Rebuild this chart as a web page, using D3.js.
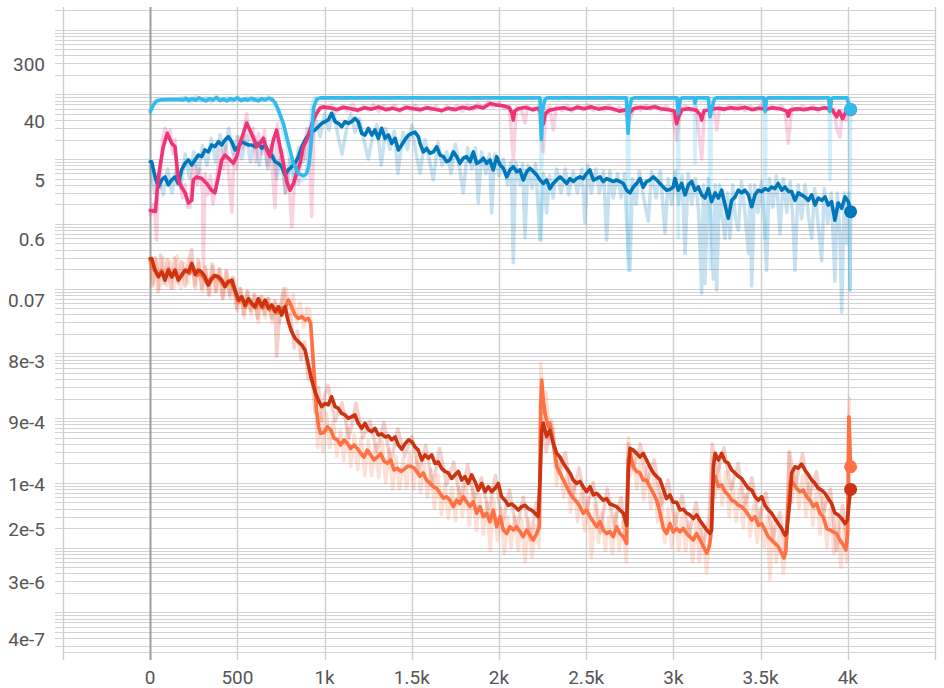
<!DOCTYPE html>
<html><head><meta charset="utf-8">
<script src="https://cdn.jsdelivr.net/npm/d3@7"></script>
<style>
html,body{margin:0;padding:0;background:#fff;}
svg{display:block;font-family:Roboto,"Noto Sans",sans-serif;}
</style></head><body>
<svg id="chart" width="944" height="688"></svg>
<script>
// ---------- axis ticks ----------
const xTickValues = [-500,0,500,1000,1500,2000,2500,3000,3500,4000,4500];
const xTickLabels = ["","0","500","1k","1.5k","2k","2.5k","3k","3.5k","4k",""];
const yTickValues = [300,40,5,0.6,0.07,8e-3,9e-4,1e-4,2e-5,3e-6,4e-7];
const yTickLabels = ["300","40","5","0.6","0.07","8e-3","9e-4","1e-4","2e-5","3e-6","4e-7"];

// ---------- series: [step, value] ----------
const cyanSmooth = [[0,54],[15,66],[35,78],[60,82],[100,83],[150,83],[190,82],[205,87],[220,80],[240,86],[260,81],[280,88],[300,83],[320,79],[340,86],[360,82],[380,89],[400,80],[420,85],[440,79],[460,86],[480,82],[500,88],[520,80],[540,85],[560,81],[580,87],[600,83],[620,79],[640,86],[660,82],[680,87],[700,83],[715,75],[730,62],[763,36],[792,17.5],[821,8.6],[850,6.0],[878,5.5],[897,6.0],[910,8],[920,14],[928,30],[937,62],[955,84],[975,88],
[2235,88],[2243,20],[2250,55],[2262,82],[2275,88],
[2730,88],[2740,25],[2748,60],[2760,84],[2775,88],
[3020,88],[3028,51],[3040,84],[3050,88],
[3118,88],[3124,73],[3132,88],
[3200,88],[3210,45],[3220,60],[3235,84],[3245,88],
[3518,88],[3526,54],[3534,85],[3542,88],
[3890,88],[3898,54],[3906,85],[3914,88],
[3995,88],[4005,70],[4016,58.6]];

const cyanRaw = [[0,50],[20,75],[40,85],[80,80],[140,84],[200,90],[230,76],[260,93],[290,78],[320,89],[350,76],[380,94],[410,80],[440,89],[470,77],[500,92],[530,79],[560,91],[590,78],[620,89],[650,80],[680,93],[710,72],[740,50],[770,22],[800,10],[830,5],[860,4.5],[890,5],[910,15],[925,60],[940,88],[2238,88],[2243,0.56],[2248,88],[2735,88],[2741,0.19],[2747,88],[3024,88],[3028,0.61],[3033,88],[3119,88],[3124,8.6],[3129,88],[3205,88],[3212,0.2],[3218,88],[3521,88],[3526,0.6],[3531,88],[3893,88],[3898,4.75],[3903,88],[4008,88],[4013,0.095],[4016,58]];

const magentaSmooth = [[0,1.6],[30,1.55],[45,4.7],[56,7.6],[75,15.5],[98,25],[123,17.5],[142,15.5],[152,8.6],[161,4.75],[180,3.7],[200,3.0],[219,2.1],[238,2.3],[247,4.75],[266,5.3],[295,5.0],[324,4.2],[352,3.3],[371,3.0],[391,5.3],[410,9.7],[429,11.5],[458,9.7],[477,8.6],[496,10.9],[515,17.5],[534,25],[553,36],[572,28],[592,21],[611,15.5],[630,17.5],[649,21],[668,13.8],[687,10.9],[706,19.7],[725,28],[744,15.5],[764,8.6],[783,4.5],[802,3.3],[821,4.2],[840,6.0],[859,8.6],[878,15.5],[897,19.7],[916,28],[935,40],[955,51],[974,61],[993,64],
[1030,62],[1070,58],[1110,63],[1150,60],[1190,57],[1230,62],[1270,59],[1310,64],[1350,58],[1390,61],[1430,57],[1470,63],[1510,60],[1550,58],[1590,62],[1630,59],[1670,56],[1710,61],[1750,58],[1790,63],[1830,60],[1870,65],[1910,62],[1950,72],[1990,68],[2030,66],[2060,62],[2075,50],[2082,40],[2090,55],[2110,60],[2150,63],[2190,58],[2230,61],[2245,45],[2254,35],[2265,50],[2290,57],[2330,60],[2370,62],[2410,58],[2450,63],[2490,60],[2530,64],[2570,59],[2610,62],[2650,60],[2690,55],[2730,58],[2745,50],[2770,60],[2810,63],[2850,61],[2890,64],[2930,60],[2970,58],[3005,55],[3019,35],[3030,45],[3050,58],[3090,60],[3130,57],[3155,48],[3162,40],[3175,55],[3210,58],[3250,61],[3290,59],[3330,62],[3370,60],[3410,63],[3450,58],[3490,61],[3530,59],[3570,62],[3610,60],[3650,55],[3659,46],[3670,57],[3710,60],[3750,58],[3790,61],[3830,59],[3870,62],[3910,58],[3936,45],[3950,55],[3970,42],[3984,50],[4000,56],[4016,58]];

const magentaRaw = [[0,1.3],[15,2],[30,1.2],[37,0.56],[45,6],[56,3.5],[70,20],[85,30],[100,22],[115,28],[130,12],[142,20],[155,4],[170,6],[185,2.5],[200,4],[215,1.8],[228,1.8],[240,5.5],[255,8],[270,4],[285,7],[300,3],[305,0.22],[315,6],[330,2.8],[345,5.5],[360,2],[375,4],[390,8],[405,14],[420,7],[435,16],[450,6],[468,1.5],[480,12],[495,7],[510,22],[530,15],[553,51],[570,20],[590,30],[605,9],[621,25],[640,12],[655,28],[670,8],[690,16],[700,7],[716,1.8],[730,35],[745,9],[760,14],[775,3],[790,7],[812,0.9],[830,6],[850,4],[870,14],[890,10],[910,25],[926,1.3],[940,45],[960,58],[980,66],
[1010,58],[1040,68],[1070,55],[1100,66],[1130,56],[1160,70],[1190,54],[1220,66],[1250,57],[1280,69],[1310,55],[1340,67],[1370,56],[1400,68],[1430,54],[1460,66],[1490,57],[1520,68],[1550,55],[1580,66],[1610,56],[1640,67],[1670,53],[1700,66],[1730,56],[1760,68],[1790,55],[1820,69],[1850,58],[1880,72],[1910,60],[1940,78],[1970,64],[2000,74],[2030,60],[2060,66],[2082,9.7],[2100,64],[2130,56],[2149,36],[2165,66],[2195,56],[2225,65],[2254,13],[2270,58],[2290,66],[2311,28],[2330,64],[2360,56],[2390,68],[2420,55],[2450,67],[2480,57],[2510,69],[2540,56],[2570,66],[2600,57],[2630,68],[2660,55],[2690,64],[2720,52],[2750,40],[2780,66],[2810,57],[2840,68],[2870,58],[2900,67],[2930,56],[2960,66],[2990,55],[3019,19.7],[3040,60],[3070,66],[3100,55],[3130,64],[3162,10],[3180,60],[3210,55],[3230,66],[3248,28],[3265,64],[3290,56],[3320,67],[3350,57],[3380,68],[3410,56],[3440,66],[3470,57],[3500,68],[3530,56],[3560,66],[3590,57],[3620,67],[3640,56],[3659,17.5],[3680,64],[3710,56],[3740,67],[3770,57],[3800,66],[3830,55],[3860,65],[3890,56],[3920,60],[3936,30],[3955,22],[3970,55],[3990,40],[4005,62],[4016,58]];

const blueSmooth = [[0,9.1],[8,9.1],[28,5.3],[47,3.7],[66,4.75],[85,5.3],[104,4.0],[123,4.75],[142,5.3],[161,4.2],[180,6.8],[200,8.6],[219,9.7],[238,8.1],[257,9.7],[276,11.5],[295,10.9],[314,13.8],[333,12.9],[352,16.5],[371,15.5],[391,18.5],[410,16.5],[429,19.7],[448,22.1],[468,18.5],[487,13.8],[506,15.5],[525,18.5],[544,17.5],[563,16.5],[582,16.5],[601,15.5],[620,17.5],[640,14.7],[659,16.5],[678,12.9],[697,11.5],[716,9.1],[735,8.6],[754,7.6],[773,5.7],[792,6.8],[811,7.6],[830,8.6],[850,10.9],[869,15.5],[888,19.7],[907,23.5],[926,26.4],[945,28.1],[964,31.6],[983,35.6],[1002,37.8],[1021,40.1],[1040,50.9],[1060,37.8],[1079,35.6],[1098,31.6],[1117,37.8],[1136,35.6],[1155,37.8],[1174,42.6],[1193,37.8],[1213,24.9],[1232,23.5],[1251,29.9],[1270,23.5],[1289,28.1],[1308,20.9],[1327,29.9],[1347,20.9],[1366,23.5],[1385,17.5],[1404,20.9],[1423,13.8],[1442,16.5],[1461,20],[1481,23.5],[1500,25],[1519,26],[1538,22],[1547,17.5],[1566,12.9],[1585,14.6],[1604,12.3],[1623,12.9],[1643,15.5],[1662,11.5],[1681,10.9],[1700,9.1],[1719,9.7],[1738,12.9],[1757,10.9],[1776,8.6],[1795,10.3],[1814,10.9],[1834,9.1],[1853,12.9],[1872,8.6],[1891,9.1],[1910,10.3],[1929,8.6],[1948,9.7],[1967,6.8],[1987,10.9],[2006,8.1],[2025,7.2],[2044,5.3],[2063,6.8],[2082,7.6],[2101,6.4],[2120,6.8],[2139,4.75],[2159,6.4],[2178,7.2],[2197,6.4],[2216,5.7],[2235,4.75],[2254,4.2],[2273,4.75],[2292,3.5],[2311,4.2],[2330,4.75],[2350,5.3],[2369,4.75],[2388,4.2],[2407,5.0],[2426,4.5],[2445,5.0],[2464,5.3],[2483,5.0],[2502,6.0],[2521,6.8],[2541,4.75],[2560,5.0],[2579,5.3],[2598,4.5],[2617,5.0],[2636,4.75],[2655,4.5],[2674,4.75],[2693,4.5],[2713,4.2],[2732,3.3],[2751,3.0],[2770,3.7],[2789,4.2],[2808,5.0],[2827,3.7],[2846,4.5],[2865,4.75],[2885,5.3],[2904,4.75],[2923,4.2],[2942,3.7],[2961,3.3],[2980,3.4],[2999,3.7],[3009,5.0],[3028,3.3],[3047,4.2],[3067,2.8],[3086,4.0],[3105,4.5],[3124,3.3],[3143,3.7],[3162,2.8],[3181,2.5],[3200,3.5],[3219,2.2],[3239,3.0],[3258,2.5],[3277,3.3],[3296,1.95],[3315,1.22],[3334,2.3],[3353,2.6],[3372,3.3],[3391,3.0],[3410,3.3],[3430,2.8],[3449,1.84],[3468,2.8],[3487,3.3],[3506,3.15],[3525,3.5],[3544,3.3],[3563,3.7],[3582,3.5],[3601,4.2],[3621,3.3],[3640,3.7],[3659,3.15],[3678,3.15],[3697,2.3],[3716,3.0],[3735,2.8],[3754,2.6],[3774,2.3],[3793,2.8],[3812,1.95],[3831,2.5],[3850,2.3],[3869,2.6],[3888,1.95],[3907,2.2],[3926,1.14],[3945,2.1],[3965,1.74],[3984,2.6],[4003,2.2],[4016,1.54]];

const blueRaw = [[0,8],[25,3],[50,6],[75,2.8],[100,7],[125,3],[150,7],[175,3.5],[200,12],[225,5],[250,13],[275,6],[300,16],[325,8],[350,21],[375,9],[400,24],[425,11],[450,30],[475,12],[500,22],[525,10],[550,24],[575,9],[600,22],[625,8],[650,21],[675,7],[700,15],[725,5],[750,11],[775,3],[800,10],[825,4],[850,15],[875,9],[900,30],[925,18],[950,40],[975,22],[1000,50],[1025,28],[1050,58],[1075,24],[1100,12],[1125,28],[1150,50],[1175,26],[1200,42],[1225,20],[1250,10],[1275,22],[1300,34],[1325,8],[1350,30],[1375,14],[1400,27],[1420,6],[1450,26],[1475,14],[1500,33],[1525,12],[1547,6.1],[1575,20],[1600,10],[1623,4.75],[1650,18],[1675,8],[1700,13],[1725,6],[1750,17],[1775,7],[1795,3],[1820,15],[1845,7],[1865,15],[1881,2.1],[1900,13],[1925,6],[1945,12],[1958,1.47],[1975,12],[2000,5.5],[2025,10],[2050,4],[2070,9],[2082,0.25],[2095,9],[2120,4],[2135,8.5],[2149,0.61],[2165,8],[2190,3.5],[2210,8.5],[2235,0.56],[2255,6],[2273,1.47],[2290,5.5],[2310,2.5],[2330,7],[2355,3],[2380,7],[2400,2.8],[2425,6.5],[2450,3],[2475,7],[2493,1.05],[2510,8],[2530,3],[2555,7],[2575,3],[2600,6.5],[2617,0.56],[2635,6.5],[2655,2.5],[2680,6],[2700,2.5],[2720,6],[2741,0.35],[2751,0.19],[2765,5],[2785,2],[2805,6.5],[2830,2.5],[2856,1.1],[2875,6.5],[2900,2.5],[2925,6.5],[2952,0.72],[2970,5],[2990,2],[3010,6.5],[3030,2],[3050,5.5],[3067,0.35],[3085,6],[3105,2],[3125,5],[3145,1.5],[3162,0.085],[3172,4],[3181,0.12],[3200,5],[3215,1.2],[3229,0.14],[3240,4],[3248,0.095],[3265,4],[3280,1.3],[3296,0.6],[3310,3],[3324,0.6],[3340,4],[3356,1.2],[3372,0.8],[3390,4.5],[3410,1.5],[3430,0.35],[3440,4],[3449,0.11],[3465,4],[3485,1.5],[3505,4.5],[3520,1.3],[3534,0.19],[3550,5],[3570,1.8],[3590,5.5],[3611,0.7],[3630,5],[3650,1.5],[3670,4.5],[3685,1.2],[3697,0.19],[3715,4],[3735,1.2],[3755,4],[3775,1.3],[3793,0.6],[3810,3.5],[3830,1],[3850,0.27],[3865,3.5],[3885,1],[3905,3],[3926,0.13],[3940,3],[3955,0.7],[3965,0.043],[3980,3],[3995,0.5],[4005,3],[4013,0.095],[4016,1.5]];

const redSmooth = [[0,0.29],[8,0.29],[28,0.193],[47,0.152],[66,0.18],[85,0.135],[104,0.193],[123,0.152],[142,0.193],[161,0.135],[180,0.159],[200,0.193],[219,0.18],[238,0.245],[257,0.166],[276,0.193],[295,0.18],[314,0.152],[333,0.113],[352,0.141],[371,0.159],[391,0.152],[410,0.135],[429,0.107],[448,0.128],[468,0.135],[487,0.095],[506,0.0665],[525,0.0749],[544,0.0557],[563,0.07],[582,0.0593],[601,0.0525],[620,0.07],[640,0.0525],[659,0.0665],[678,0.0495],[697,0.0557],[716,0.044],[735,0.0525],[754,0.039],[773,0.0525],[792,0.0308],[811,0.0216],[830,0.0171],[850,0.0151],[869,0.0134],[888,0.0112],[907,6.6e-3],[926,3.87e-3],[945,2.55e-3],[964,1.9e-3],[983,1.5e-3],[1002,1.68e-3],[1021,1.6e-3],[1040,2.14e-3],[1060,1.5e-3],[1079,1.41e-3],[1098,1.18e-3],[1117,1.12e-3],[1136,9.9e-4],[1155,1.05e-3],[1174,1.12e-3],[1193,8.3e-4],[1213,6.95e-4],[1232,8.3e-4],[1251,6.6e-4],[1270,6.15e-4],[1289,6.95e-4],[1308,5.47e-4],[1327,5.7e-4],[1347,5.1e-4],[1366,5.3e-4],[1385,4.6e-4],[1404,5.1e-4],[1423,3.84e-4],[1442,3.3e-4],[1461,4.0e-4],[1481,4.6e-4],[1500,4.3e-4],[1518,3.6e-4],[1537,3.2e-4],[1557,2.25e-4],[1576,2.7e-4],[1595,2.4e-4],[1614,2.7e-4],[1633,2.0e-4],[1652,2.1e-4],[1671,1.67e-4],[1690,1.5e-4],[1709,1.42e-4],[1729,1.17e-4],[1748,1.33e-4],[1767,1.5e-4],[1786,1.1e-4],[1805,1.25e-4],[1824,9.8e-5],[1843,1.33e-4],[1862,1.05e-4],[1881,7.7e-5],[1901,9.8e-5],[1920,7.3e-5],[1939,8.7e-5],[1958,7.3e-5],[1977,8.2e-5],[1996,9.8e-5],[2015,6.1e-5],[2034,5.4e-5],[2053,4.5e-5],[2072,4.7e-5],[2091,4.3e-5],[2111,3.8e-5],[2130,4.3e-5],[2149,4.5e-5],[2168,4.0e-5],[2187,3.8e-5],[2206,3.38e-5],[2225,3.0e-5],[2235,1.1e-4],[2245,6.5e-4],[2254,8.3e-4],[2273,5.2e-4],[2292,6.5e-4],[2311,4.1e-4],[2331,2.85e-4],[2350,2.5e-4],[2369,2.0e-4],[2388,1.67e-4],[2407,1.42e-4],[2426,1.1e-4],[2445,9.8e-5],[2464,1.05e-4],[2483,8.7e-5],[2502,7.3e-5],[2522,8.7e-5],[2541,6.5e-5],[2560,6.9e-5],[2579,6.1e-5],[2598,5.4e-5],[2617,5.7e-5],[2636,4.7e-5],[2655,4.5e-5],[2674,4.3e-5],[2693,3.8e-5],[2713,3.4e-5],[2732,2.2e-5],[2741,1.42e-4],[2751,3.4e-4],[2770,3.2e-4],[2789,2.85e-4],[2808,2.5e-4],[2827,2.85e-4],[2846,2.25e-4],[2865,1.77e-4],[2885,1.42e-4],[2904,1.25e-4],[2923,1.12e-4],[2942,8.0e-5],[2961,5.7e-5],[2980,6.5e-5],[2999,5.0e-5],[3019,5.0e-5],[3038,3.8e-5],[3057,3.9e-5],[3076,3.4e-5],[3095,3.2e-5],[3114,2.8e-5],[3133,3.2e-5],[3153,2.6e-5],[3172,2.2e-5],[3191,1.87e-5],[3210,1.65e-5],[3219,1.87e-5],[3229,1.77e-4],[3239,2.85e-4],[3258,2.25e-4],[3277,2.85e-4],[3296,2.15e-4],[3315,2.0e-4],[3334,1.58e-4],[3353,1.42e-4],[3372,1.26e-4],[3391,1.17e-4],[3410,9.8e-5],[3430,8.2e-5],[3449,7.7e-5],[3468,6.1e-5],[3487,5.4e-5],[3506,6.1e-5],[3525,4.5e-5],[3544,3.8e-5],[3563,3.4e-5],[3582,2.8e-5],[3601,2.35e-5],[3620,1.97e-5],[3640,1.55e-5],[3649,1.65e-5],[3668,5.4e-5],[3678,1.42e-4],[3697,1.77e-4],[3716,1.68e-4],[3735,1.95e-4],[3754,1.58e-4],[3774,1.33e-4],[3793,1.1e-4],[3812,9.8e-5],[3831,8.2e-5],[3850,7.7e-5],[3869,6.9e-5],[3888,5.7e-5],[3907,4.8e-5],[3926,3.4e-5],[3945,3.2e-5],[3965,2.8e-5],[3984,2.35e-5],[3997,2.6e-5],[4009,5.4e-5],[4016,7.9e-5]];

const redRaw = [[0,0.3],[15,0.11],[30,0.3],[45,0.09],[60,0.33],[80,0.12],[100,0.28],[120,0.1],[140,0.3],[160,0.12],[180,0.26],[200,0.11],[220,0.27],[238,0.4],[255,0.11],[275,0.28],[295,0.1],[315,0.22],[335,0.08],[355,0.24],[375,0.09],[395,0.2],[415,0.07],[435,0.19],[455,0.08],[475,0.15],[495,0.05],[515,0.1],[535,0.04],[555,0.09],[575,0.045],[595,0.08],[615,0.035],[635,0.075],[655,0.04],[675,0.07],[695,0.035],[715,0.065],[725,0.009],[745,0.05],[765,0.1],[785,0.035],[805,0.04],[825,0.012],[845,0.022],[865,0.008],[885,0.015],[905,0.004],[925,0.0055],[945,0.0012],[965,0.003],[985,0.0009],[1000,0.0022],
[1020,3.2e-3],[1060,9e-4],[1100,1.7e-3],[1140,5e-4],[1180,1.7e-3],[1220,5e-4],[1260,9e-4],[1300,3e-4],[1340,8.6e-4],[1380,2e-4],[1420,6.8e-4],[1460,2.6e-4],[1500,5.2e-4],[1540,1.5e-4],[1580,3.8e-4],[1620,9e-5],[1660,3.4e-4],[1700,9.4e-5],[1740,2.1e-4],[1780,5.2e-5],[1820,1.9e-4],[1860,5.5e-5],[1900,1.2e-4],[1940,3.4e-5],[1980,1.3e-4],[2020,2.2e-5],[2060,7.7e-5],[2100,1.9e-5],[2140,6e-5],[2180,1.3e-5],[2215,5e-5],[2232,2e-5],[2245,1.5e-3],[2270,3e-4],[2300,9e-4],[2340,1.4e-4],[2380,2.9e-4],[2420,6e-5],[2460,1.7e-4],[2500,3.5e-5],[2540,1e-4],[2580,1.7e-5],[2620,8e-5],[2660,2.2e-5],[2700,6e-5],[2728,1.2e-5],[2742,4e-4],[2770,1.6e-4],[2810,4e-4],[2850,1e-4],[2890,2.3e-4],[2930,4.5e-5],[2970,1.1e-4],[3010,2.2e-5],[3050,6.5e-5],[3090,1.5e-5],[3130,5e-5],[3170,1e-5],[3205,3e-5],[3222,4e-4],[3250,1.3e-4],[3290,3.5e-4],[3330,8e-5],[3370,2e-4],[3410,4.5e-5],[3450,1.2e-4],[3490,2.5e-5],[3530,7e-5],[3570,1.4e-5],[3610,3.5e-5],[3645,8e-6],[3665,3e-4],[3700,9e-5],[3740,2.8e-4],[3780,6e-5],[3820,1.5e-4],[3860,3.5e-5],[3900,8e-5],[3935,9e-6],[3970,4.5e-5],[3995,1.2e-5],[4010,1.4e-4]];

const orangeSmooth = [[0,0.27],[20,0.2],[45,0.16],[65,0.19],[85,0.14],[105,0.2],[125,0.15],[145,0.18],[165,0.14],[185,0.17],[205,0.19],[225,0.17],[245,0.22],[265,0.16],[285,0.17],[305,0.15],[325,0.12],[345,0.14],[365,0.16],[385,0.15],[405,0.13],[425,0.11],[445,0.13],[465,0.12],[485,0.09],[505,0.062],[525,0.07],[545,0.052],[565,0.066],[585,0.055],[605,0.05],[625,0.066],[645,0.05],[665,0.062],[685,0.047],[705,0.053],[725,0.042],[745,0.05],[773,0.0495],[792,0.0665],[811,0.0525],[830,0.039],[850,0.0345],[869,0.037],[888,0.0327],[907,0.0345],[920,0.029],[931,0.0112],[943,3.4e-3],[954,1.33e-3],[966,7.3e-4],[977,5.8e-4],[996,6.0e-4],[1016,7.3e-4],[1035,6.6e-4],[1054,4.9e-4],[1073,4.6e-4],[1092,3.84e-4],[1111,4.6e-4],[1130,4.1e-4],[1150,3.4e-4],[1169,3.84e-4],[1188,3.4e-4],[1207,2.85e-4],[1226,2.5e-4],[1245,3.2e-4],[1264,2.7e-4],[1283,2.25e-4],[1302,2.5e-4],[1322,2.85e-4],[1341,2.15e-4],[1360,2.0e-4],[1379,2.25e-4],[1398,1.58e-4],[1417,1.67e-4],[1437,1.5e-4],[1456,1.62e-4],[1475,1.8e-4],[1494,1.8e-4],[1513,1.7e-4],[1528,1.5e-4],[1547,1.26e-4],[1566,1.42e-4],[1585,1.1e-4],[1604,9.8e-5],[1623,8.7e-5],[1643,8.2e-5],[1662,6.9e-5],[1681,5.8e-5],[1700,6.1e-5],[1719,5.4e-5],[1738,4.3e-5],[1757,5.4e-5],[1776,4.8e-5],[1795,6.1e-5],[1814,5.1e-5],[1834,4.3e-5],[1853,5.1e-5],[1872,3.38e-5],[1891,4.3e-5],[1910,3.0e-5],[1929,3.38e-5],[1948,2.5e-5],[1967,3.8e-5],[1987,2.1e-5],[2006,3.0e-5],[2025,1.87e-5],[2044,1.65e-5],[2063,2.1e-5],[2082,1.87e-5],[2101,2.1e-5],[2120,1.77e-5],[2139,1.47e-5],[2159,1.87e-5],[2178,1.55e-5],[2197,1.31e-5],[2216,1.65e-5],[2231,2.1e-5],[2239,1.5e-3],[2245,3.87e-3],[2254,1.9e-3],[2264,1.18e-3],[2273,9.3e-4],[2283,7.4e-4],[2292,8.3e-4],[2311,4.1e-4],[2331,1.77e-4],[2350,1.42e-4],[2369,1.1e-4],[2388,8.7e-5],[2407,6.9e-5],[2426,5.8e-5],[2445,5.1e-5],[2464,4.3e-5],[2483,3.38e-5],[2502,3.8e-5],[2522,3.0e-5],[2541,2.5e-5],[2560,2.1e-5],[2579,2.5e-5],[2598,1.87e-5],[2617,1.65e-5],[2636,1.77e-5],[2655,1.47e-5],[2674,2.1e-5],[2693,1.65e-5],[2713,1.47e-5],[2732,1.16e-5],[2741,2.25e-4],[2751,2.85e-4],[2770,1.77e-4],[2789,1.5e-4],[2808,1.42e-4],[2827,1.1e-4],[2846,1.1e-4],[2865,8.7e-5],[2885,6.9e-5],[2904,5.4e-5],[2923,3.5e-5],[2942,1.97e-5],[2961,1.65e-5],[2980,2.35e-5],[2999,1.75e-5],[3019,1.97e-5],[3038,1.75e-5],[3057,1.97e-5],[3076,1.65e-5],[3095,1.47e-5],[3114,1.31e-5],[3133,1.65e-5],[3153,1.31e-5],[3172,1.04e-5],[3191,8.2e-6],[3206,1.04e-5],[3214,1.47e-5],[3229,9.8e-5],[3239,1.26e-4],[3258,8.7e-5],[3277,9.2e-5],[3296,7.3e-5],[3315,6.5e-5],[3334,5.4e-5],[3353,5.1e-5],[3372,4.5e-5],[3391,4.3e-5],[3410,3.8e-5],[3430,3.2e-5],[3449,2.67e-5],[3468,3.0e-5],[3487,2.2e-5],[3506,2.35e-5],[3525,1.87e-5],[3544,1.47e-5],[3563,1.31e-5],[3582,1.16e-5],[3601,1.04e-5],[3620,8.2e-6],[3634,6.9e-6],[3645,9.2e-6],[3659,5.4e-5],[3672,1.1e-4],[3687,9.8e-5],[3707,8.2e-5],[3726,7.3e-5],[3745,7.7e-5],[3764,6.1e-5],[3783,5.4e-5],[3802,4.3e-5],[3821,4.8e-5],[3840,3.38e-5],[3859,3.0e-5],[3879,1.97e-5],[3898,1.87e-5],[3917,1.75e-5],[3936,1.65e-5],[3955,1.31e-5],[3974,1.1e-5],[3989,9.2e-6],[3999,1.65e-5],[4006,1.05e-3],[4016,1.77e-4]];

const orangeRaw = [[0,0.25],[18,0.12],[35,0.28],[55,0.1],[75,0.3],[95,0.11],[115,0.26],[135,0.1],[155,0.32],[175,0.1],[195,0.25],[215,0.12],[235,0.28],[260,0.1],[280,0.25],[300,0.09],[320,0.2],[340,0.08],[360,0.22],[380,0.09],[400,0.2],[420,0.07],[440,0.18],[460,0.07],[480,0.14],[500,0.045],[520,0.1],[540,0.035],[560,0.09],[580,0.04],[600,0.08],[620,0.03],[640,0.075],[660,0.035],[680,0.07],[700,0.03],[720,0.06],[740,0.03],[760,0.07],[780,0.1],[800,0.04],[820,0.08],[840,0.03],[860,0.06],[880,0.025],[900,0.05],[915,0.045],[930,0.008],[945,0.004],[960,3.5e-4],[975,1.2e-3],[990,3e-4],[1010,1.2e-3],[1030,3.5e-4],[1050,9e-4],[1070,2.6e-4],[1090,6.5e-4],[1110,2.2e-4],[1130,7e-4],[1150,1.8e-4],[1170,5.5e-4],[1190,1.6e-4],[1210,5e-4],[1230,1.3e-4],[1250,4.5e-4],[1270,1.3e-4],[1290,3.8e-4],[1310,1.2e-4],[1330,4.3e-4],[1350,1e-4],[1370,3.3e-4],[1390,8e-5],[1410,2.6e-4],[1430,8e-5],[1450,2.4e-4],[1470,8.5e-5],[1490,3e-4],[1510,8e-5],[1530,2.5e-4],[1550,7e-5],[1570,2.2e-4],[1590,6e-5],[1610,1.6e-4],[1630,4e-5],[1650,1.3e-4],[1670,3.2e-5],[1690,9.5e-5],[1710,2.8e-5],[1730,8.5e-5],[1750,2.6e-5],[1770,8.5e-5],[1790,3e-5],[1810,9e-5],[1830,2.2e-5],[1850,8e-5],[1870,1.8e-5],[1890,6.5e-5],[1910,1.6e-5],[1930,5e-5],[1950,9e-6],[1970,5.5e-5],[1990,1.3e-5],[2010,4e-5],[2030,8e-6],[2050,3e-5],[2070,1e-5],[2090,3e-5],[2110,9e-6],[2130,2.8e-5],[2150,6e-6],[2170,2.8e-5],[2190,7e-6],[2210,2.2e-5],[2230,1e-5],[2240,7e-3],[2255,1.2e-3],[2270,2.5e-3],[2290,4e-4],[2310,7e-4],[2330,9e-5],[2350,2.5e-4],[2370,6e-5],[2390,1.5e-4],[2410,3.5e-5],[2430,1e-4],[2450,2.5e-5],[2470,7e-5],[2490,1.8e-5],[2510,6e-5],[2530,7e-6],[2550,4.5e-5],[2570,1.2e-5],[2590,3.5e-5],[2610,9e-6],[2630,3e-5],[2650,8e-6],[2670,3.5e-5],[2690,9e-6],[2710,2.5e-5],[2730,6e-6],[2742,5e-4],[2755,1.3e-4],[2770,3.2e-4],[2790,8e-5],[2810,2.4e-4],[2830,5.5e-5],[2850,1.8e-4],[2870,4e-5],[2890,1.3e-4],[2910,2.5e-5],[2930,7e-5],[2950,1.2e-5],[2970,4e-5],[2990,1e-5],[3010,3.5e-5],[3030,9e-6],[3050,3.2e-5],[3070,9e-6],[3090,2.5e-5],[3110,6e-6],[3130,2.6e-5],[3150,6e-6],[3170,2e-5],[3190,4e-6],[3210,1.8e-5],[3224,2.5e-4],[3240,6e-5],[3260,2e-4],[3280,4.5e-5],[3300,1.5e-4],[3320,3e-5],[3340,1e-4],[3360,2.5e-5],[3380,8e-5],[3400,2e-5],[3420,6.5e-5],[3440,1.5e-5],[3460,4.5e-5],[3480,1.2e-5],[3500,4e-5],[3520,1e-5],[3540,3e-5],[3553,3.2e-6],[3570,2.5e-5],[3590,6e-6],[3610,2e-5],[3630,4e-6],[3650,1.5e-5],[3662,3e-4],[3680,5e-5],[3700,1.6e-4],[3720,4e-5],[3740,1.3e-4],[3760,3e-5],[3780,1e-4],[3800,2.2e-5],[3820,8e-5],[3840,1.6e-5],[3860,6e-5],[3880,1e-5],[3900,4e-5],[3920,8e-6],[3940,3e-5],[3960,5e-6],[3980,2.5e-5],[3995,6e-6],[4008,2e-3],[4016,1.8e-4]];

// ---------- chart ----------
const svg = d3.select("#chart");
const x = d3.scaleLinear().domain([-500, 4500]).range([63, 935]);
const y = d3.scaleLog().domain([2.44e-7, 2230]).range([652, 7]);

const grid = svg.append("g");
grid.selectAll("line.h").data(y.ticks(60)).join("line")
  .attr("x1", 55).attr("x2", 935)
  .attr("y1", d => Math.round(y(d)) + 0.5).attr("y2", d => Math.round(y(d)) + 0.5)
  .attr("stroke", "#d2d2d2").attr("stroke-width", 1.2);
grid.append("line").attr("x1", 63).attr("x2", 935).attr("y1", 652.5).attr("y2", 652.5)
  .attr("stroke", "#d2d2d2").attr("stroke-width", 1.2);
grid.selectAll("line.v").data(xTickValues).join("line")
  .attr("x1", d => Math.round(x(d)) + 0.5).attr("x2", d => Math.round(x(d)) + 0.5)
  .attr("y1", 7).attr("y2", 660)
  .attr("stroke", d => d === 0 ? "#9e9e9e" : "#cfcfcf")
  .attr("stroke-width", d => d === 0 ? 2 : 1.4);

svg.append("g").selectAll("text").data(yTickValues).join("text")
  .attr("x", 45).attr("y", d => y(d) + 1.5)
  .attr("text-anchor", "end").attr("dominant-baseline", "central")
  .attr("font-size", 19).attr("fill", "#555")
  .text((d, i) => yTickLabels[i]);
svg.append("g").selectAll("text").data(xTickValues).join("text")
  .attr("x", d => x(d)).attr("y", 677.5)
  .attr("text-anchor", "middle").attr("dominant-baseline", "central")
  .attr("font-size", 19).attr("fill", "#555")
  .text((d, i) => xTickLabels[i]);

const line = d3.line().x(d => x(d[0])).y(d => y(d[1]));

const series = [
  {raw: orangeRaw, smooth: orangeSmooth, color: "#ff7043"},
  {raw: redRaw, smooth: redSmooth, color: "#cc3311"},
  {raw: blueRaw, smooth: blueSmooth, color: "#0077bb"},
  {raw: magentaRaw, smooth: magentaSmooth, color: "#ee3377"},
  {raw: cyanRaw, smooth: cyanSmooth, color: "#33bbee"}
];

const plot = svg.append("g");
series.forEach(s => {
  plot.append("path").datum(s.raw).attr("d", line)
    .attr("fill", "none").attr("stroke", s.color).attr("stroke-opacity", 0.22)
    .attr("stroke-width", 3.5).attr("stroke-linejoin", "round");
});
series.forEach(s => {
  plot.append("path").datum(s.smooth).attr("d", line)
    .attr("fill", "none").attr("stroke", s.color)
    .attr("stroke-width", 3.6).attr("stroke-linejoin", "round").attr("stroke-linecap", "round");
});
series.forEach(s => {
  const last = s.smooth[s.smooth.length - 1];
  plot.append("circle").attr("cx", x(last[0])).attr("cy", y(last[1])).attr("r", 6.5)
    .attr("fill", s.color);
});
</script>
</body></html>
